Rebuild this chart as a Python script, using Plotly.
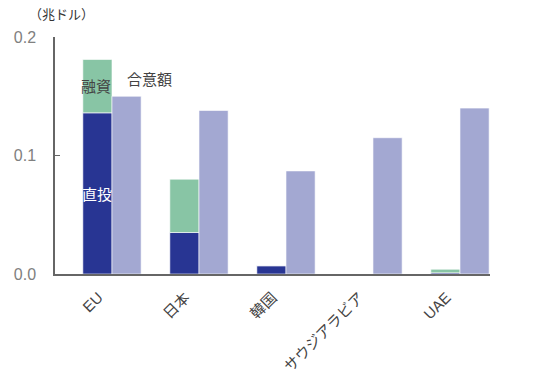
import plotly.graph_objects as go

categories = ["EU", "日本", "韓国", "サウジアラビア", "UAE"]
direct = [0.136, 0.035, 0.007, 0.0, 0.001]
financing = [0.045, 0.045, 0.0, 0.0, 0.003]
agreed = [0.150, 0.138, 0.087, 0.115, 0.140]
yticks = [0.0, 0.1, 0.2]

xpos = list(range(len(categories)))
JP = "Liberation Sans, Noto Sans CJK JP, sans-serif"

fig = go.Figure()
fig.add_trace(go.Bar(x=xpos, y=direct, offset=-0.18, width=0.335,
                     marker=dict(color="#283593", line=dict(color="rgba(255,255,255,0.6)", width=1)),
                     showlegend=False))
fig.add_trace(go.Bar(x=xpos, y=financing, base=direct, offset=-0.18, width=0.335,
                     marker=dict(color="#88C5A5", line=dict(color="rgba(255,255,255,0.6)", width=1)),
                     showlegend=False))
fig.add_trace(go.Bar(x=xpos, y=agreed, offset=0.155, width=0.335,
                     marker=dict(color="#A3A8D2", line=dict(color="rgba(255,255,255,0.6)", width=1)),
                     showlegend=False))

# page body has an 8px default margin, so the figure is offset by 8px
fig.update_layout(
    width=528, height=381,
    margin=dict(l=47, r=46, t=29, b=115),
    barmode="overlay",
    plot_bgcolor="white", paper_bgcolor="white",
    font=dict(family=JP, size=15, color="#555555"),
    xaxis=dict(range=[-0.5, 4.5], tickvals=xpos, ticktext=categories, tickangle=-45,
               showline=True, linecolor="#666666", linewidth=1.5, ticks="",
               ticklabelstandoff=7, automargin=False,
               showgrid=False, zeroline=False, tickfont=dict(size=15, color="#444444")),
    yaxis=dict(range=[0, 0.2], tickvals=yticks, tickformat=".1f", ticks="inside", ticklen=5,
               tickcolor="#666666", showline=True, linecolor="#666666", linewidth=1.5,
               ticklabelstandoff=14, automargin=False,
               showgrid=False, zeroline=False, tickfont=dict(size=16, color="#808080")),
    annotations=[
        dict(x=-0.03, y=0.158, text="融資", showarrow=False, font=dict(size=15, color="#444444")),
        dict(x=0.587, y=0.164, text="合意額", showarrow=False, font=dict(size=15, color="#444444")),
        dict(x=-0.02, y=0.0675, text="直投", showarrow=False, font=dict(size=15, color="white")),
        dict(x=0.014, y=1.093, xref="paper", yref="paper", xanchor="center", yanchor="middle",
             text="（兆ドル）", showarrow=False, font=dict(size=13, color="#333333")),
    ],
)

fig.write_html("out.html")
